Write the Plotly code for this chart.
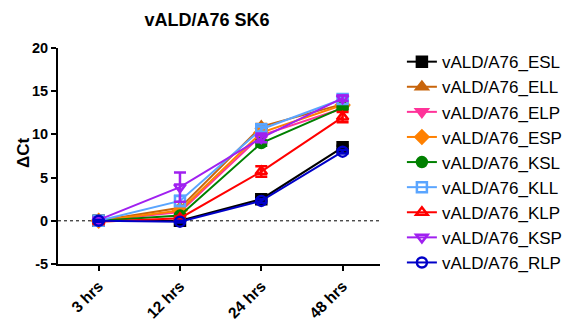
import plotly.graph_objects as go

categories = ["3 hrs", "12 hrs", "24 hrs", "48 hrs"]

series_names = ["vALD/A76_ESL", "vALD/A76_ELL", "vALD/A76_ELP", "vALD/A76_ESP",
                "vALD/A76_KSL", "vALD/A76_KLL", "vALD/A76_KLP", "vALD/A76_KSP",
                "vALD/A76_RLP"]

esl = [0.0, 0.0, 2.5, 8.5]
ell = [0.0, 1.5, 10.9, 13.5]
elp = [0.0, 1.0, 9.9, 13.0]
esp = [0.0, 1.2, 10.2, 13.4]
ksl = [0.0, 0.6, 9.0, 13.1]
kll = [0.0, 2.3, 10.6, 14.1]
klp = [-0.1, 0.3, 5.7, 12.0]
ksp = [0.1, 3.9, 9.6, 14.2]
rlp = [0.0, -0.1, 2.3, 8.0]

esl_err = [0.1, 0.1, 0.2, 0.2]
ell_err = [0.1, 0.2, 0.3, 0.2]
elp_err = [0.1, 0.2, 0.2, 0.2]
esp_err = [0.1, 0.2, 0.2, 0.2]
ksl_err = [0.1, 0.2, 0.3, 0.2]
kll_err = [0.1, 0.6, 0.3, 0.2]
klp_err = [0.1, 0.2, 0.6, 0.6]
ksp_err = [0.1, 1.7, 0.5, 0.3]
rlp_err = [0.1, 0.1, 0.2, 0.2]

y_tick_vals = [-5, 0, 5, 10, 15, 20]
y_tick_text = ["-5", "0", "5", "10", "15", "20"]

values = [esl, ell, elp, esp, ksl, kll, klp, ksp, rlp]
errors = [esl_err, ell_err, elp_err, esp_err, ksl_err, kll_err, klp_err, ksp_err, rlp_err]
colors = ["#000000", "#C8640A", "#FF3399", "#FF8000", "#008000",
          "#5AA5FF", "#FF0000", "#A020F0", "#0000C8"]
symbols = ["square", "triangle-up", "triangle-down", "diamond", "circle",
           "square-open", "triangle-up-open", "triangle-down-open", "circle-open"]

fig = go.Figure()
for name, v, e, c, s in zip(series_names, values, errors, colors, symbols):
    fig.add_trace(go.Scatter(
        x=list(range(len(categories))), y=v, name=name, mode="lines+markers",
        line=dict(color=c, width=2),
        marker=dict(symbol=s, size=10, color=c, line=dict(color=c, width=2.5)),
        error_y=dict(type="data", array=e, visible=True, color=c, thickness=2.5, width=6),
    ))

fig.add_shape(type="line", xref="paper", yref="y", x0=0, x1=1, y0=0, y1=0,
              line=dict(color="black", width=1, dash="dot"), layer="below")

font_family = "Liberation Sans, Arial, sans-serif"
W, H = 569, 316
L, R, T, B = 50, 197, 40, 60
PW, PH = W - L - R, H - T - B

fig.add_annotation(text="<b>ΔCt</b>", xref="paper", yref="paper",
                   x=(15 - L) / PW, y=1 - (145 - T) / PH, textangle=-90,
                   showarrow=False, xanchor="center", yanchor="middle",
                   font=dict(family=font_family, size=17, color="black"))

fig.update_layout(
    width=W, height=H,
    margin=dict(l=L, r=R, t=T, b=B, autoexpand=False),
    plot_bgcolor="white", paper_bgcolor="white",
    title=dict(text="<b>vALD/A76 SK6</b>", x=(199 / W), xanchor="center",
               y=1 - 12 / H, yanchor="middle",
               font=dict(family=font_family, size=18, color="black")),
    xaxis=dict(range=[-0.5, 3.46], tickmode="array", tickvals=list(range(len(categories))),
               ticktext=["<b>%s</b>" % c for c in categories], tickangle=-45,
               showline=True, linecolor="black", linewidth=2, ticks="outside",
               ticklen=5, tickwidth=2, tickcolor="black", showgrid=False, zeroline=False,
               tickfont=dict(family=font_family, size=15.5, color="black")),
    yaxis=dict(range=[-5, 20], tickmode="array", tickvals=y_tick_vals,
               ticktext=["<b>%s</b>" % t for t in y_tick_text],
               showline=True, linecolor="black", linewidth=2, ticks="outside",
               ticklen=5, tickwidth=2, tickcolor="black", showgrid=False, zeroline=False,
               tickfont=dict(family=font_family, size=14.5, color="black")),
    legend=dict(x=1.068, xanchor="left", y=1.018, yanchor="top", maxheight=320,
                font=dict(family=font_family, size=17, color="black"),
                bgcolor="rgba(0,0,0,0)", tracegroupgap=0),
    showlegend=True,
)

fig.write_html("out.html")
